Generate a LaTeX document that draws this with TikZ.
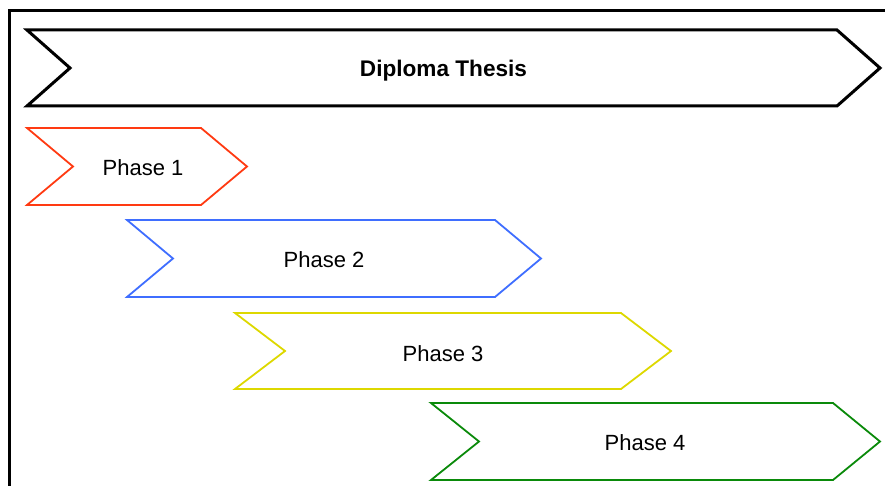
\documentclass[tikz,border=0pt]{standalone}
\usepackage{fontspec}
\setmainfont{Liberation Sans}
\definecolor{cred}{HTML}{FF3A12}
\definecolor{cblue}{HTML}{3F6EFF}
\definecolor{cyellow}{HTML}{DDD800}
\definecolor{cgreen}{HTML}{0A8A0A}
\tikzset{
  chevmain/.style={draw=black, line width=3pt, line join=miter},
  chevphase/.style={line width=1.8pt, line join=miter},
  lbl/.style={font=\fontsize{22}{24}\selectfont, inner sep=0pt},
  lblbold/.style={font=\fontsize{22.6}{24}\selectfont\bfseries, inner sep=0pt},
  frame/.style={draw=black, line width=3pt}
}
\newcommand{\chevron}[7]{% style, xl, xnotch, xr, xtip, ytop, ybot
  \draw[#1] (#2,#6) -- (#4,#6) -- (#5,{(#6+#7)/2}) -- (#4,#7) -- (#2,#7) -- (#3,{(#6+#7)/2}) -- cycle;
}
\begin{document}
\begin{tikzpicture}[x=1pt,y=-1pt]
\useasboundingbox (0,0) rectangle (885,486);
\clip (0,0) rectangle (885,486);
\coordinate (fb) at (9.5,490);
\coordinate (ftl) at (9.5,11);
\coordinate (fr) at (890,11);
\draw[frame] (fb) -- (ftl) -- (fr);
\chevron{chevmain}{27}{70}{837}{880}{30}{106}
\node[lblbold] (thesis) at (443.5,70.5) {Diploma Thesis};
\chevron{chevphase,draw=cred}{27}{73}{201}{247}{128}{205}
\node[lbl] (p1) at (143,167.5) {Phase 1};
\chevron{chevphase,draw=cblue}{127}{173}{495}{541}{220}{297}
\node[lbl] (p2) at (324,259.5) {Phase 2};
\chevron{chevphase,draw=cyellow}{235}{285}{621}{671}{313}{389}
\node[lbl] (p3) at (443,353.5) {Phase 3};
\chevron{chevphase,draw=cgreen}{431}{479}{833}{880}{403}{480}
\node[lbl] (p4) at (645,442.5) {Phase 4};
\end{tikzpicture}
\end{document}
